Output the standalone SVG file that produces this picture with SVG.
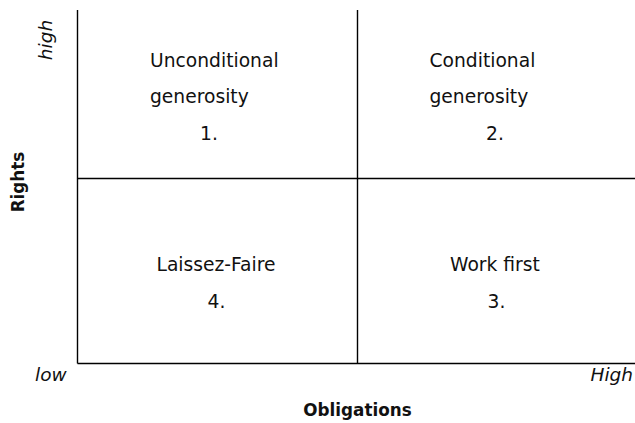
<svg xmlns="http://www.w3.org/2000/svg" width="635" height="423" viewBox="0 0 635 423">
  <style>
    .lbl { font-family: "DejaVu Sans", Verdana, sans-serif; font-size: 18.7px; fill: #111; }
    .ax { font-family: "DejaVu Sans", Verdana, sans-serif; font-size: 18.5px; font-style: italic; fill: #111; }
    .title { font-family: "DejaVu Sans", Verdana, sans-serif; font-size: 16.8px; font-weight: bold; fill: #111; }
    .grid { stroke: #000; stroke-width: 1.4; fill: none; }
  </style>
  <rect width="635" height="423" fill="#fff"/>

  <!-- grid lines: axes and quadrant dividers -->
  <g id="connectors" class="grid">
    <line x1="77.5" y1="10" x2="77.5" y2="363.5"/>
    <line x1="357.5" y1="10" x2="357.5" y2="363.5"/>
    <line x1="77.5" y1="178.5" x2="635" y2="178.5"/>
    <line x1="77.5" y1="363.5" x2="635" y2="363.5"/>
  </g>

  <!-- quadrant 1: top left -->
  <g id="q1">
    <text class="lbl" x="150" y="66.5">Unconditional</text>
    <text class="lbl" x="150" y="103">generosity</text>
    <text class="lbl" x="200" y="139.5">1.</text>
  </g>

  <!-- quadrant 2: top right -->
  <g id="q2">
    <text class="lbl" x="429.5" y="66.5">Conditional</text>
    <text class="lbl" x="429.5" y="103">generosity</text>
    <text class="lbl" x="486" y="139.5">2.</text>
  </g>

  <!-- quadrant 3: bottom right -->
  <g id="q3">
    <text class="lbl" x="450" y="271">Work first</text>
    <text class="lbl" x="487.5" y="307.5">3.</text>
  </g>

  <!-- quadrant 4: bottom left -->
  <g id="q4">
    <text class="lbl" x="156.5" y="271">Laissez-Faire</text>
    <text class="lbl" x="207.5" y="307.5">4.</text>
  </g>

  <!-- axis labels -->
  <g id="axes">
    <text class="ax" x="35" y="381">low</text>
    <text class="ax" x="633" y="381" text-anchor="end">High</text>
    <text class="ax" transform="translate(52,40) rotate(-90)" text-anchor="middle">high</text>
    <text class="title" x="357.5" y="416" text-anchor="middle">Obligations</text>
    <text class="title" transform="translate(23.5,182) rotate(-90)" text-anchor="middle">Rights</text>
  </g>
</svg>
